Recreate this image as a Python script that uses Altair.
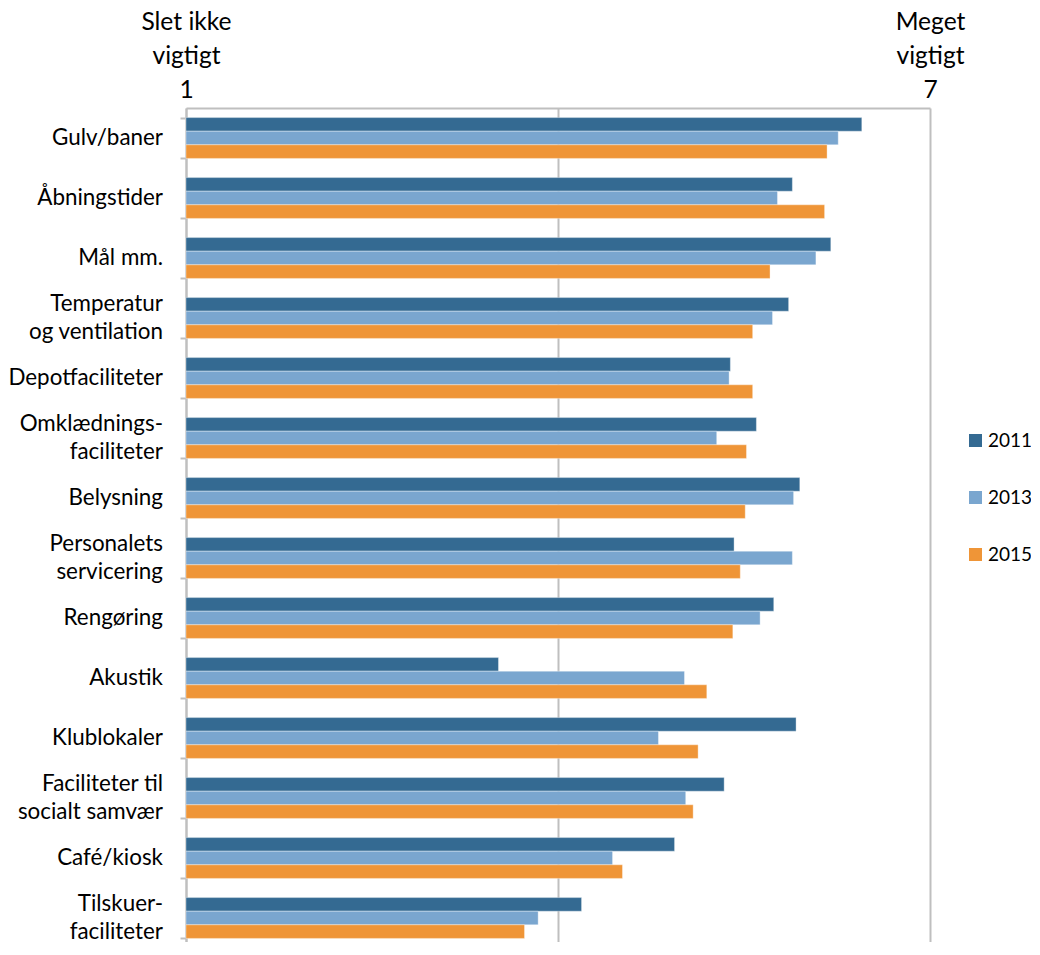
import altair as alt
import pandas as pd

categories = ["Gulv/baner", "Åbningstider", "Mål mm.", "Temperatur|og ventilation",
              "Depotfaciliteter", "Omklædnings-|faciliteter", "Belysning",
              "Personalets|servicering", "Rengøring", "Akustik", "Klublokaler",
              "Faciliteter til|socialt samvær", "Café/kiosk", "Tilskuer-|faciliteter"]
years = ["2011", "2013", "2015"]
v2011 = [6.45, 5.89, 6.20, 5.86, 5.39, 5.60, 5.95, 5.42, 5.74, 3.52, 5.92, 5.34, 4.94, 4.19]
v2013 = [6.26, 5.77, 6.08, 5.73, 5.38, 5.28, 5.90, 5.89, 5.63, 5.02, 4.81, 5.03, 4.44, 3.84]
v2015 = [6.17, 6.15, 5.71, 5.57, 5.57, 5.52, 5.51, 5.47, 5.41, 5.20, 5.13, 5.09, 4.52, 3.73]
colors = ["#346A92", "#7AA6CF", "#EF9537"]
low_label = ["Slet ikke", "vigtigt", "1"]
high_label = ["Meget", "vigtigt", "7"]
scale_min, scale_mid, scale_max = 1, 4, 7

rows = []
for y, vals in zip(years, [v2011, v2013, v2015]):
    for c, v in zip(categories, vals):
        rows.append({"kategori": c, "aar": y, "vaerdi": v, "basis": scale_min})
df = pd.DataFrame(rows)

label_rows = []
for c in categories:
    parts = c.split("|")
    for i, p in enumerate(parts):
        label_rows.append({"kategori": c, "tekst": p, "linje": i + 1, "antal": len(parts)})
labels = pd.DataFrame(label_rows)

def arr(lst):
    return "[" + ",".join("'" + s + "'" for s in lst) + "]"

xlabel_expr = (f"datum.value == {scale_min} ? {arr(low_label)} : "
               f"(datum.value == {scale_max} ? {arr(high_label)} : '')")

FONT = "Lato"
GRID = "#BFBFBF"

y_scale = alt.Scale(domain=categories, paddingInner=0.32, paddingOuter=0.16)
y_axis = alt.Axis(title=None, domain=True, domainColor=GRID, domainWidth=2,
                  ticks=True, tickBand="extent", tickSize=6, tickColor=GRID,
                  tickWidth=2, labels=False, grid=False)

bars = alt.Chart(df).mark_bar(stroke="white", strokeWidth=0.6, strokeOpacity=0.6).encode(
    y=alt.Y("kategori:N", sort=categories, scale=y_scale, axis=y_axis),
    yOffset=alt.YOffset("aar:N", sort=years, scale=alt.Scale(paddingInner=0, paddingOuter=0)),
    x=alt.X("vaerdi:Q", scale=alt.Scale(domain=[scale_min, scale_max], nice=False, zero=False),
            axis=alt.Axis(orient="top", title=None, values=[scale_min, scale_mid, scale_max],
                          labelExpr=xlabel_expr,
                          labelFont=FONT, labelFontSize=24.6, labelLineHeight=34,
                          labelColor="black", labelFlush=False, labelOverlap=False,
                          labelBound=False, labelPadding=74, ticks=False, tickSize=0,
                          domain=True, domainColor=GRID, domainWidth=2,
                          grid=True, gridColor=GRID, gridWidth=2)),
    x2=alt.X2("basis:Q"),
    color=alt.Color("aar:N", sort=years, scale=alt.Scale(domain=years, range=colors),
                    legend=alt.Legend(title=None, orient="none", legendX=780, legendY=323,
                                      symbolType="square", symbolSize=169,
                                      symbolStrokeWidth=0, labelFont=FONT,
                                      labelFontSize=19, labelColor="black",
                                      rowPadding=37, labelOffset=3, padding=0)),
)

def label_layer(test, dy):
    return alt.Chart(labels).transform_filter(test).mark_text(
        align="right", baseline="middle", font=FONT, fontSize=22.4, color="black", dy=dy
    ).encode(
        y=alt.Y("kategori:N", sort=categories, scale=y_scale, axis=y_axis),
        x=alt.value(-23),
        text="tekst:N",
    )

single = label_layer("datum.antal == 1", 0)
first = label_layer("datum.antal == 2 && datum.linje == 1", -14)
second = label_layer("datum.antal == 2 && datum.linje == 2", 14)

chart = alt.layer(bars, single, first, second).properties(
    width=744, height=840,
    autosize=alt.AutoSizeParams(type="none"),
    padding={"left": 178, "top": 100, "right": 101, "bottom": -6},
).configure_view(stroke=None)

chart.save("out.html", embed_options={"renderer": "svg", "actions": False})
